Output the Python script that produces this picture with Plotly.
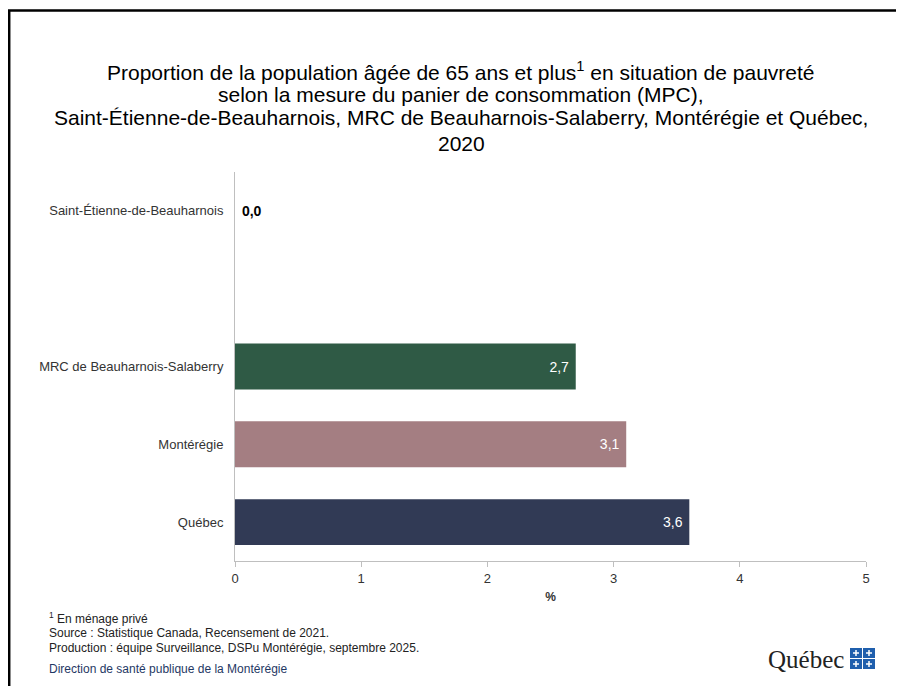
import plotly.graph_objects as go

categories = ["Saint-Étienne-de-Beauharnois", "MRC de Beauharnois-Salaberry", "Montérégie", "Québec"]
values = [0.0, 2.7, 3.1, 3.6]
colors = ["#2F5A45", "#2F5A45", "#A47E82", "#313A55"]
# axis order (top to bottom), with an empty slot after the first region
category_order = ["Saint-Étienne-de-Beauharnois", "_blank_", "MRC de Beauharnois-Salaberry", "Montérégie", "Québec"]
x_ticks = [0, 1, 2, 3, 4, 5]

OFF = 8  # page body margin
W, H = 904 - OFF, 686 - OFF
L, R, T, B = 235 - OFF, 38, 172 - OFF, 125

pw, ph = W - L - R, H - T - B

def px(x):
    return (x - OFF - L) / pw

def py(y):
    return (H - B - (y - OFF)) / ph

text_pos = ["outside" if v == 0 else "inside" for v in values]
text_col = ["#000000" if v == 0 else "#FFFFFF" for v in values]
texts = [f"{v:.1f}".replace(".", ",") for v in values]
texts = [("\u00a0<b>" + t + "</b>") if values[i] == 0 else t + "\u00a0" for i, t in enumerate(texts)]

fig = go.Figure()
fig.add_trace(go.Bar(
    y=categories, x=values, orientation="h",
    marker=dict(color=colors, line=dict(width=0)),
    text=texts, textposition=text_pos, insidetextanchor="end",
    textfont=dict(color=text_col, size=14, family="Liberation Sans, Arial, sans-serif"),
    cliponaxis=False, hoverinfo="skip",
))

fig.update_layout(
    width=W, height=H,
    margin=dict(l=L, r=R, t=T, b=B),
    paper_bgcolor="white", plot_bgcolor="white",
    bargap=0.41, showlegend=False,
    separators=", ",
    font=dict(family="Liberation Sans, Arial, sans-serif", color="#333333", size=13),
)
fig.update_xaxes(
    range=[0, 5], tickvals=x_ticks, showgrid=False, zeroline=False,
    showline=True, linecolor="#BFBFBF", linewidth=1,
    ticks="outside", ticklen=5, tickcolor="#BFBFBF",
    tickfont=dict(size=13, color="#333333"),
    title=dict(text="<b>%</b>", font=dict(size=12, color="#333333"), standoff=8),
)
fig.update_yaxes(
    type="category", categoryorder="array", categoryarray=category_order,
    tickmode="array", tickvals=categories, ticktext=categories,
    autorange="reversed",
    showgrid=False, showline=True, linecolor="#BFBFBF", linewidth=1,
    ticks="", ticklabelstandoff=8, tickfont=dict(size=13, color="#333333"),
)

title_lines = [
    "Proportion de la population âgée de 65 ans et plus<sup>1</sup> en situation de pauvreté",
    "selon la mesure du panier de consommation (MPC),",
    "Saint-Étienne-de-Beauharnois, MRC de Beauharnois-Salaberry, Montérégie et Québec,",
    "2020",
]
title_y = [71, 94, 118, 143]
for t, yy in zip(title_lines, title_y):
    fig.add_annotation(text=t, x=px(461), y=py(yy), xref="paper", yref="paper",
                       showarrow=False, xanchor="center", yanchor="middle",
                       font=dict(size=21, color="#000000", family="Liberation Sans, Arial, sans-serif"))

foot = [
    ("<sup>1</sup> En ménage privé", 618, "#222222"),
    ("Source : Statistique Canada, Recensement de 2021.", 633, "#222222"),
    ("Production : équipe Surveillance, DSPu Montérégie, septembre 2025.", 648, "#222222"),
    ("Direction de santé publique de la Montérégie", 669, "#1F3864"),
]
for t, yy, c in foot:
    fig.add_annotation(text=t, x=px(47), y=py(yy), xref="paper", yref="paper",
                       showarrow=False, xanchor="left", yanchor="middle",
                       font=dict(size=12, color=c, family="Liberation Sans Narrow, Arial Narrow, Liberation Sans, sans-serif"))

# Québec logo
fig.add_annotation(text="Québec", x=px(846), y=py(659), xref="paper", yref="paper",
                   showarrow=False, xanchor="right", yanchor="middle",
                   font=dict(size=25, color="#222222", family="Liberation Serif, DejaVu Serif, serif"))
for (x0, y0) in [(850, 648), (863, 648), (850, 659), (863, 659)]:
    fig.add_shape(type="rect", xref="paper", yref="paper",
                  x0=px(x0), x1=px(x0 + 12), y0=py(y0), y1=py(y0 + 10),
                  fillcolor="#1F5FAD", line=dict(width=0))
    fig.add_shape(type="line", xref="paper", yref="paper",
                  x0=px(x0 + 3), x1=px(x0 + 9), y0=py(y0 + 5), y1=py(y0 + 5),
                  line=dict(color="white", width=1.5))
    fig.add_shape(type="line", xref="paper", yref="paper",
                  x0=px(x0 + 6), x1=px(x0 + 6), y0=py(y0 + 2), y1=py(y0 + 8),
                  line=dict(color="white", width=1.5))

# outer frame
fig.add_shape(type="rect", xref="paper", yref="paper",
              x0=px(9.2), x1=px(915), y0=py(10.5), y1=py(700),
              line=dict(color="#000000", width=2.5), fillcolor="rgba(0,0,0,0)")

fig.write_html("out.html")
